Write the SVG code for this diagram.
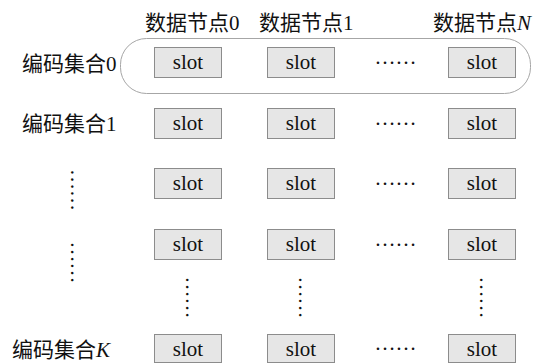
<svg xmlns="http://www.w3.org/2000/svg" width="533" height="363" viewBox="0 0 533 363">
<style>
.slot rect{fill:#e6e6e6;stroke:#8c8c8c;stroke-width:1}
.slot text,.dots{font-family:"Liberation Serif","Times New Roman",serif;font-size:21px;fill:#111;text-anchor:middle}
.lbl{font-family:"Liberation Serif","Noto Sans CJK SC",serif;font-size:21px;fill:#111}
.dots{text-anchor:start}
.it{font-style:italic}
</style>
<rect width="533" height="363" fill="#fff"/>
<g id="connectors"></g>
<g id="set0-outline"><rect x="120.5" y="38.5" width="410" height="55" rx="26" ry="26" fill="none" stroke="#a6a6a6" stroke-width="1"/></g>
<g id="headers">
<text class="lbl" x="145" y="30">数据节点0</text>
<text class="lbl" x="259" y="30">数据节点1</text>
<text class="lbl" x="433" y="30">数据节点<tspan class="it">N</tspan></text>
</g>
<g id="row-labels">
<text class="lbl" x="22" y="71">编码集合0</text>
<text class="lbl" x="22" y="131">编码集合1</text>
<text class="lbl" x="12" y="357">编码集合<tspan class="it">K</tspan></text>
</g>
<g id="row0">
<g class="slot" id="s0-0"><rect x="154.5" y="47.5" width="67" height="30"/><text x="188" y="69">slot</text></g>
<g class="slot" id="s0-1"><rect x="267.5" y="47.5" width="67" height="30"/><text x="301" y="69">slot</text></g>
<text class="dots" x="374.5" y="64">……</text>
<g class="slot" id="s0-N"><rect x="448.5" y="47.5" width="67" height="30"/><text x="482" y="69">slot</text></g>
</g>
<g id="row1">
<g class="slot" id="s1-0"><rect x="154.5" y="108.5" width="67" height="30"/><text x="188" y="130">slot</text></g>
<g class="slot" id="s1-1"><rect x="267.5" y="108.5" width="67" height="30"/><text x="301" y="130">slot</text></g>
<text class="dots" x="374.5" y="125">……</text>
<g class="slot" id="s1-N"><rect x="448.5" y="108.5" width="67" height="30"/><text x="482" y="130">slot</text></g>
</g>
<g id="row2">
<g class="slot" id="s2-0"><rect x="154.5" y="168.5" width="67" height="30"/><text x="188" y="190">slot</text></g>
<g class="slot" id="s2-1"><rect x="267.5" y="168.5" width="67" height="30"/><text x="301" y="190">slot</text></g>
<text class="dots" x="374.5" y="185">……</text>
<g class="slot" id="s2-N"><rect x="448.5" y="168.5" width="67" height="30"/><text x="482" y="190">slot</text></g>
</g>
<g id="row3">
<g class="slot" id="s3-0"><rect x="154.5" y="229.5" width="67" height="30"/><text x="188" y="251">slot</text></g>
<g class="slot" id="s3-1"><rect x="267.5" y="229.5" width="67" height="30"/><text x="301" y="251">slot</text></g>
<text class="dots" x="374.5" y="246">……</text>
<g class="slot" id="s3-N"><rect x="448.5" y="229.5" width="67" height="30"/><text x="482" y="251">slot</text></g>
</g>
<g id="rowK">
<g class="slot" id="sK-0"><rect x="154.5" y="334.5" width="67" height="28"/><text x="188" y="356">slot</text></g>
<g class="slot" id="sK-1"><rect x="267.5" y="334.5" width="67" height="28"/><text x="301" y="356">slot</text></g>
<text class="dots" x="374.5" y="350">……</text>
<g class="slot" id="sK-N"><rect x="448.5" y="334.5" width="67" height="28"/><text x="482" y="356">slot</text></g>
</g>
<g id="vertical-dots">
<text class="dots" transform="translate(71,169) rotate(90)">……</text>
<text class="dots" transform="translate(71,241.5) rotate(90)">……</text>
<text class="dots" transform="translate(186,276.5) rotate(90)">……</text>
<text class="dots" transform="translate(299,276.5) rotate(90)">……</text>
<text class="dots" transform="translate(480,276.5) rotate(90)">……</text>
</g>
</svg>
